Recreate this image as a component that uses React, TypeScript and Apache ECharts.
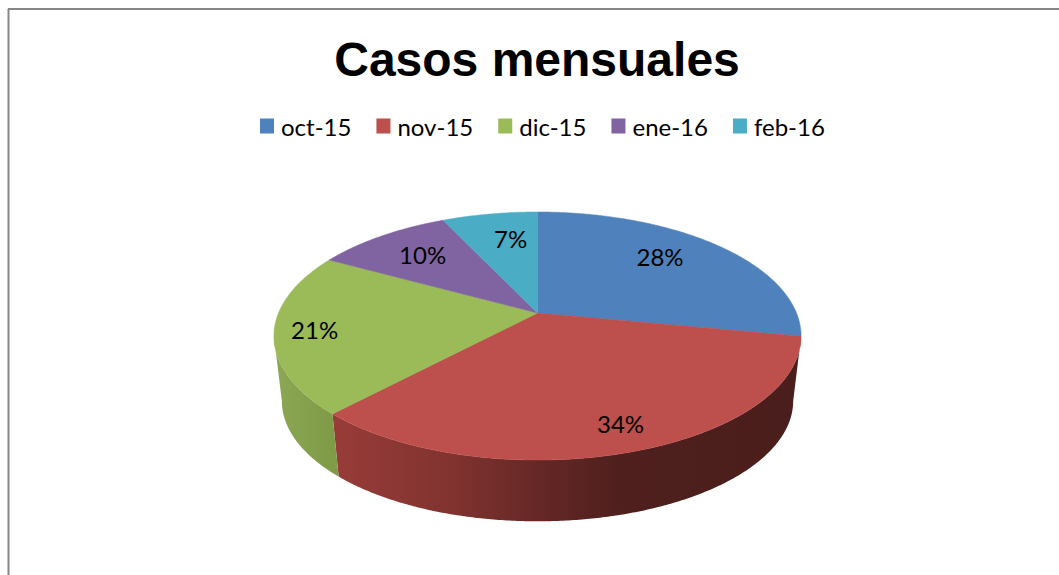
import React, { useEffect, useRef } from "react";
import * as echarts from "echarts";

const categories = ["oct-15", "nov-15", "dic-15", "ene-16", "feb-16"];
const shares = [28, 34, 21, 10, 7];
const colors = ["#4f81bd", "#bd4f4c", "#9bbb59", "#8064a2", "#4bacc6"];
const wallStops: Record<string, [number, string][]> = {
  "nov-15": [[0, "#983c39"], [0.25, "#81332f"], [0.44, "#652826"], [0.62, "#4e1f1d"], [1, "#4a1e1c"]],
  "dic-15": [[0, "#8ca855"], [1, "#7f9b47"]],
};
const labelRadius = [0.72, 0.84, 0.85, 0.71, 0.7];
const labelShiftDeg = [-4.5, -1, -1, 0, 3];

// Projective view of the disc: centre of the cone is off the ellipse centre, as in a perspective 3D pie.
const CX = 537.5, R = 259, PA = 61.7, PB = 313, PC = -0.1855;
const WALL_SCALE = 0.97, TOP_CY = 336, BOTTOM_CY = 401;
const VISIBLE_FROM = 100.7, VISIBLE_TO = 259.3;

const rad = (d: number) => (d * Math.PI) / 180;
const project = (deg: number, r = 1): [number, number] => {
  const u = r * Math.sin(rad(deg));
  const v = -r * Math.cos(rad(deg));
  const d = 1 + PC * v;
  return [CX + (R * u) / d, (PA * v + PB) / d];
};
const lower = ([x, y]: [number, number]): [number, number] => [
  CX + (x - CX) * WALL_SCALE,
  BOTTOM_CY + (y - TOP_CY) * WALL_SCALE,
];
const total = shares.reduce((a, b) => a + b, 0);
const startDeg = (i: number) => (shares.slice(0, i).reduce((a, b) => a + b, 0) / total) * 360;
const arc = (from: number, to: number) => {
  const n = Math.max(2, Math.ceil(Math.abs(to - from) * 2));
  return Array.from({ length: n + 1 }, (_, k) => project(from + ((to - from) * k) / n));
};

const makeSeries = (name: string, i: number) => ({
  type: "custom",
  name,
  coordinateSystem: "none",
  itemStyle: { color: colors[i] },
  data: [[shares[i]]],
  renderItem: (_p: any, api: any) => {
    const value = api.value(0);
    const a0 = startDeg(i);
    const a1 = a0 + (value / total) * 360;
    const children: any[] = [];
    const w0 = Math.max(a0, VISIBLE_FROM);
    const w1 = Math.min(a1, VISIBLE_TO);
    if (w1 > w0 && wallStops[name]) {
      const rim = arc(w0, w1);
      const minX = Math.min(...rim.map((p) => p[0]));
      const maxX = Math.max(...rim.map((p) => p[0]));
      children.push({
        type: "polygon",
        shape: { points: [...rim, ...rim.map(lower).reverse()] },
        style: {
          fill: new echarts.graphic.LinearGradient(
            minX, 0, maxX, 0,
            wallStops[name].map(([offset, color]) => ({ offset, color })),
            true
          ),
        },
      });
    }
    children.push({
      type: "polygon",
      shape: { points: [project(0, 0), ...arc(a0, a1)] },
      style: { fill: colors[i], stroke: colors[i], lineWidth: 0.5 },
    });
    const [lx, ly] = project((a0 + a1) / 2 + labelShiftDeg[i], labelRadius[i]);
    children.push({
      type: "text",
      style: {
        text: `${Math.round((value / total) * 100)}%`,
        x: lx,
        y: ly - 1.5,
        align: "center",
        verticalAlign: "middle",
        fill: "#000",
        font: '24px Lato',
      },
    });
    return { type: "group", children };
  },
});

export default function App() {
  const ref = useRef<HTMLDivElement>(null);
  useEffect(() => {
    document.body.style.margin = "0";
    const chart = echarts.init(ref.current!, null, { renderer: "svg" });
    chart.setOption({
      animation: false,
      backgroundColor: "#fff",
      title: {
        text: "Casos mensuales",
        left: 532,
        top: 30,
        textAlign: "center",
        textStyle: { fontFamily: "Liberation Sans", fontWeight: "bold", fontSize: 48, color: "#000" },
      },
      legend: {
        data: categories,
        left: 260,
        top: 114,
        padding: 0,
        icon: "rect",
        itemWidth: 14,
        itemHeight: 15,
        itemGap: 25,
        textStyle: { fontFamily: "Lato", fontSize: 24, color: "#000", padding: [0, 0, 0, 2] },
        selectedMode: false,
      },
      graphic: [
        { type: "line", shape: { x1: 8.5, y1: 9, x2: 8.5, y2: 575 }, style: { stroke: "#868686", lineWidth: 2 } },
        { type: "line", shape: { x1: 8, y1: 9, x2: 1059, y2: 9 }, style: { stroke: "#868686", lineWidth: 2 } },
      ],
      series: categories.map(makeSeries),
    });
    return () => chart.dispose();
  }, []);
  return <div ref={ref} style={{ width: 1059, height: 575 }} />;
}
